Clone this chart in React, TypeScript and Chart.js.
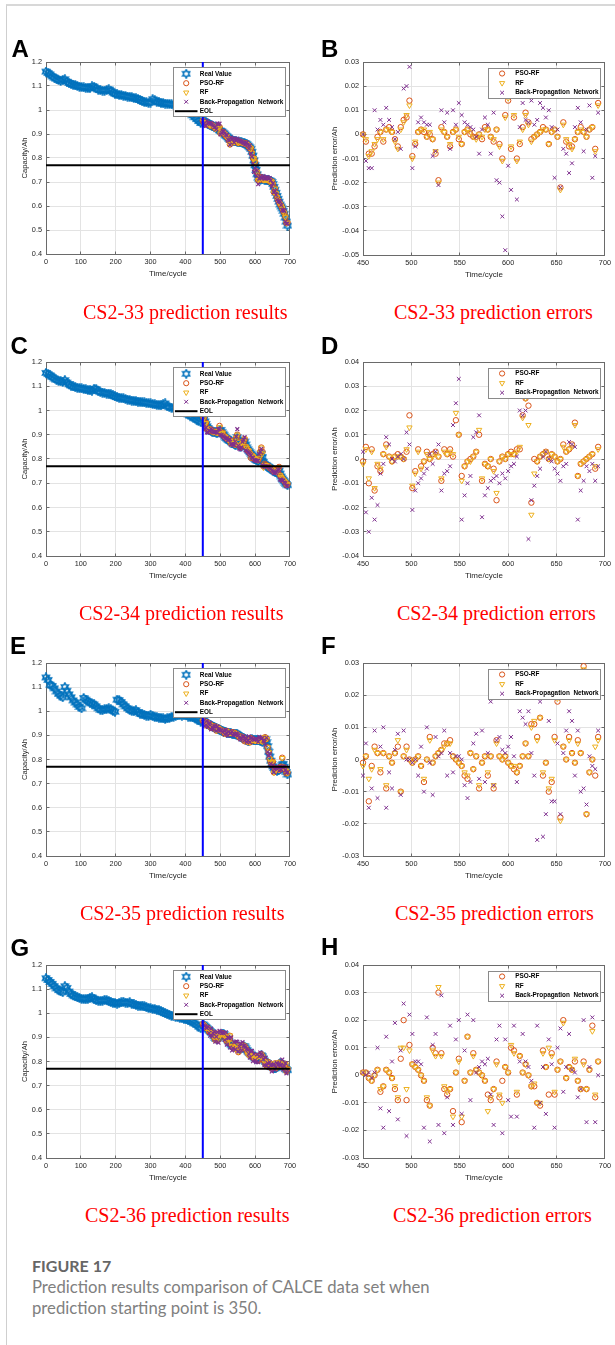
import React, { useEffect, useRef } from 'react';
import { Chart, registerables } from 'chart.js';

Chart.register(...registerables);

// ---------------- cycle layout ----------------
const HIST_START = 0; // history sampled every 6 cycles
const HIST_STEP = 6;
const PRED_START = 450; // prediction starting point (blue line), sampled every 3 cycles
const PRED_STEP = 3;
const EOL_LEVEL = 0.77;

// ---------------- tick labels ----------------
const capXTicks = [0, 100, 200, 300, 400, 500, 600, 700];
const capYTicks = [0.4, 0.5, 0.6, 0.7, 0.8, 0.9, 1, 1.1, 1.2];
const errXTicks = [450, 500, 550, 600, 650, 700];
const errYTicksB = [-0.05, -0.04, -0.03, -0.02, -0.01, 0, 0.01, 0.02, 0.03];
const errYTicksD = [-0.04, -0.03, -0.02, -0.01, 0, 0.01, 0.02, 0.03, 0.04];
const errYTicksF = [-0.03, -0.02, -0.01, 0, 0.01, 0.02, 0.03];
const errYTicksH = [-0.03, -0.02, -0.01, 0, 0.01, 0.02, 0.03, 0.04];

// ---------------- legend labels ----------------
const capLegendLabels = ['Real Value', 'PSO-RF', 'RF', 'Back-Propagation  Network', 'EOL'];
const errLegendLabels = ['PSO-RF', 'RF', 'Back-Propagation  Network'];

// ---------------- captions ----------------
const capCaptions = ['CS2-33 prediction results', 'CS2-34 prediction results', 'CS2-35 prediction results', 'CS2-36 prediction results'];
const errCaptions = ['CS2-33 prediction errors', 'CS2-34 prediction errors', 'CS2-35 prediction errors', 'CS2-36 prediction errors'];

// ---------------- data (capacity in mAh, errors in mAh) ----------------
// CS2-33
const capHistA = [1160,1154,1148,1140,1135,1130,1125,1121,1126,1128,
1118,1113,1109,1106,1103,1100,1097,1096,1094,1093,
1092,1091,1098,1097,1090,1085,1083,1081,1080,1083,
1086,1080,1073,1068,1065,1063,1062,1060,1058,1056,
1055,1053,1050,1048,1046,1042,1037,1034,1032,1030,
1031,1045,1040,1035,1033,1030,1028,1027,1026,1025,
1024,1022,1019,1017,1014,1011,1008,1004,995,986,
978,970,962,954,946];
const capWinA = [955,952,950,948,945,943,940,938,936,935,
932,930,928,926,925,920,915,912,910,906,
903,898,893,890,886,880,876,875,873,872,
871,870,869,868,867,866,866,865,864,863,
862,860,857,852,848,844,838,826,810,790,
770,750,732,718,712,710,711,712,711,710,
709,708,708,707,706,704,700,692,680,668,
655,642,630,618,606,598,590,580,568,552,
535,518];
const errPsoA = [0,-3,-8,-8,-5,-1,1,-3,2,3,
1,-2,-5,3,6,7,14,-9,-4,1,
2,1,-1,0,-2,-8,-19,3,1,-1,
-5,1,2,-2,-4,1,2,0,-1,-1,
0,-2,3,2,-1,-3,2,-4,-10,8,
14,-6,7,-10,-4,3,9,5,-2,-1,
0,1,3,2,-4,1,2,-1,-22,5,
-3,-5,-5,-2,1,3,1,-1,2,3,
-6,13];
const errRfA = [0,-2,-9,-7,-4,-2,1,-2,2,2,
1,-3,-6,2,5,8,12,-10,-3,1,
2,2,-1,1,-2,-7,-20,2,1,-1,
-4,1,2,-1,-4,1,2,1,-1,-2,
0,-1,2,2,-1,-2,2,-5,-11,7,
15,-5,8,-11,-3,2,8,4,-3,-1,
0,1,2,2,-4,1,2,-1,-23,4,
-2,-4,-6,-2,1,2,1,-1,2,3,
-7,12];
const errBpA = [0,-11,-14,-14,10,2,6,4,11,6,
3,-2,1,-6,19,20,28,-14,-5,5,
7,5,4,4,-9,-7,-21,10,5,9,
-6,10,4,13,8,5,4,3,2,-1,
-8,2,7,4,-8,9,-19,-20,-34,-48,
-13,-23,16,-27,3,13,6,5,14,4,
6,13,11,7,10,3,-18,2,-22,-6,
-8,-16,-12,3,11,5,-7,2,12,-18,
-9,9];

// CS2-34
const capHistC = [1155,1150,1145,1138,1132,1127,1123,1120,1118,1125,
1115,1108,1103,1099,1096,1094,1092,1091,1089,1087,
1085,1083,1082,1090,1088,1080,1076,1074,1072,1070,
1070,1066,1062,1058,1055,1053,1051,1050,1047,1045,
1043,1041,1040,1038,1037,1036,1034,1033,1032,1030,
1029,1027,1025,1024,1022,1021,1025,1029,1018,1014,
1012,1010,1008,1006,1002,996,992,988,984,978,
974,968,962,958,952];
const capWinC = [978,965,955,945,935,928,922,918,915,913,
912,911,910,909,908,912,918,920,912,905,
900,893,887,884,880,877,875,873,868,864,
860,858,870,890,880,858,850,855,862,868,
872,860,848,840,834,828,822,816,810,804,
800,796,794,792,800,812,822,808,788,780,
776,772,769,766,763,760,757,754,751,748,
745,742,748,752,740,728,720,714,708,702,
697,692];
const errPsoD = [-1,5,-10,4,-13,-3,-5,2,6,1,
-1,1,2,1,0,3,18,-12,-5,4,
-3,-1,3,0,2,3,1,-9,4,2,
4,1,16,10,-7,-3,-1,0,1,3,
10,-9,-2,-3,0,-4,-17,-1,1,0,
2,3,2,4,4,18,25,22,-18,0,
-1,1,2,3,0,2,1,-1,0,6,
3,4,6,15,-7,-2,-1,0,1,2,
-4,5];
const errRfD = [-2,4,-8,3,-12,-2,-4,2,5,1,
-1,1,1,1,0,4,13,-11,-6,3,
-4,-1,2,0,1,2,1,-8,3,2,
3,2,19,10,-9,-3,-1,-1,1,3,
12,-8,-2,-3,0,-5,-14,-1,1,0,
2,2,2,3,5,17,25,14,-23,-6,
-1,1,2,3,0,2,1,-1,0,5,
3,4,5,14,-7,-2,-1,0,1,2,
-3,4];
const errBpD = [3,-22,-30,-16,-25,-19,-6,-2,9,6,
0,-1,1,2,0,11,6,-21,-13,-10,
-8,-6,-4,2,-2,3,6,-13,-6,-5,
-3,14,23,33,-25,-15,-10,-7,9,11,
18,-24,-15,-12,-9,-8,-7,-10,-6,-8,
-5,-3,-2,1,20,18,20,-33,-17,-11,
-7,-4,1,3,0,-1,-4,-6,-9,-3,
-2,7,6,5,-25,-13,-9,-3,-5,-2,
-9,-3];

// CS2-35
const capHistE = [1140,1130,1110,1105,1095,1082,1072,1065,1058,1100,
1085,1070,1058,1045,1036,1028,1018,1012,1055,1048,
1042,1036,1032,1028,1020,1012,1006,1004,1008,1010,
1012,1008,1002,998,1048,1046,1038,1028,1020,1012,
1006,1002,1000,1004,996,990,988,986,982,980,
986,980,976,975,974,972,970,968,970,972,
976,978,980,983,984,982,984,983,978,976,
975,972,968,962,956];
const capWinE = [962,958,955,952,950,947,944,942,940,938,
936,934,932,930,928,926,924,922,920,918,
916,914,912,911,910,909,908,908,907,906,
905,906,907,904,900,897,895,893,891,888,
885,882,880,878,878,880,882,883,882,880,
879,880,882,881,879,877,875,874,876,880,
884,872,855,832,812,795,782,772,765,760,
756,754,755,758,762,768,778,782,770,758,
748,738];
const errPsoF = [-1,1,-13,-2,4,2,-4,2,-9,1,
-1,2,4,-10,1,4,0,-1,0,1,
-2,-7,0,7,-1,1,2,3,5,5,
6,1,0,-1,-2,-5,-6,2,-3,1,
-9,-1,1,-5,1,-9,6,1,0,1,
-1,-2,-3,-4,-2,1,5,1,11,11,
7,13,-5,-1,-10,-7,7,18,-18,4,
0,7,2,-1,6,2,29,-17,-4,0,
-5,7];
const errRfF = [-2,1,-6,-3,3,2,-3,2,-8,1,
-1,2,6,-10,1,3,0,-1,0,1,
-2,-6,0,6,-1,1,2,3,4,5,
5,1,0,-1,-2,-4,-5,2,-3,1,
-8,-1,1,-4,1,-8,5,1,0,1,
-1,-2,-2,-4,-2,1,5,1,10,12,
6,13,-4,-1,-9,-6,6,19,-19,4,
0,6,2,-1,5,2,28,-17,-4,0,
4,6];
const errBpF = [-5,5,-15,-9,9,-12,4,10,-15,-4,
-9,3,8,-11,9,0,0,-1,0,-5,
4,-10,10,-1,-11,7,1,2,9,-5,
2,-4,1,1,0,-8,-12,-7,5,8,
-6,9,-7,2,18,-8,6,7,3,2,
4,7,1,-7,15,13,11,15,2,-5,
-25,18,-24,-17,12,-13,-13,5,-17,2,
9,15,12,-5,9,-10,-9,-14,1,-2,
-3,9];

// CS2-36
const capHistG = [1145,1138,1130,1122,1112,1103,1096,1091,1087,1112,
1105,1090,1080,1074,1070,1066,1063,1060,1059,1058,
1060,1064,1066,1060,1054,1052,1050,1052,1056,1054,
1050,1046,1044,1042,1040,1042,1045,1048,1044,1042,
1046,1040,1037,1035,1032,1030,1032,1028,1025,1022,
1020,1018,1017,1015,1012,1008,1004,1000,997,994,
990,988,986,984,982,980,977,975,972,968,
964,958,952,945,938];
const capWinG = [954,950,946,942,938,934,930,926,922,918,
912,905,898,894,895,900,905,908,912,915,
914,908,900,894,888,882,876,871,867,863,
862,868,870,862,856,853,852,855,860,864,
862,855,848,842,838,834,830,826,822,818,
814,812,811,812,816,822,826,822,812,804,
798,794,790,787,784,781,778,775,772,772,
774,778,784,790,792,791,788,784,778,772,
768,764];
const errPsoH = [1,1,-1,-2,0,2,-6,-4,2,1,
-1,-5,-9,6,20,-9,11,4,3,2,
0,-2,-9,-11,10,8,30,8,-5,-7,
-5,-13,1,6,-17,-2,14,1,8,2,
1,0,-2,-7,-9,-5,5,-8,-2,3,
1,10,9,-7,7,1,4,0,-4,-4,
-10,-11,9,3,-7,8,-7,2,5,20,
-1,3,2,5,-2,-5,5,-5,2,18,
-8,5];
const errRfH = [1,1,-1,-2,0,2,-5,-4,2,1,
-1,-4,-8,10,10,-5,9,4,3,2,
0,-2,-8,-11,9,7,32,7,-4,-6,
-5,-15,1,5,-15,-2,14,1,7,2,
1,0,-2,-13,-8,-5,4,-7,-10,3,
1,11,8,-6,7,1,4,0,-4,-3,
-10,-10,8,3,10,7,-6,2,5,19,
-1,3,2,6,-2,-5,4,-5,2,16,
-7,5];
const errBpH = [1,0,1,-1,1,10,-12,-19,14,-13,
5,19,-16,9,26,-22,22,15,5,5,
4,-19,21,-24,11,15,-18,29,-21,-8,
18,-18,13,20,-14,9,22,-9,20,1,
3,5,4,6,-7,-18,13,18,-21,13,
-9,-15,18,-15,5,15,5,3,-2,-19,
18,-10,3,-14,13,4,-19,10,17,-6,
3,15,2,1,-8,-5,20,-17,3,21,
-17,0];

// ---------------- styling ----------------
const SANS = '"Liberation Sans", Arial, Helvetica, sans-serif';
const C_REAL = '#0072BD';
const C_PSO = '#D95319';
const C_RF = '#EDB120';
const C_BP = '#7E2F8E';
const GRID = '#e3e3e3';
const AXIS = '#6a6a6a';
const TXT = '#262626';
const X_AXIS_H = 26;
const TOP_PAD = 10;

const fmt = (v: any) => String(Number(Number(v).toFixed(3)));

function makeHex(): HTMLCanvasElement {
  const c = document.createElement('canvas');
  c.width = 10;
  c.height = 10;
  const g = c.getContext('2d')!;
  g.strokeStyle = C_REAL;
  g.lineWidth = 1.5;
  g.beginPath();
  for (let k = 0; k < 12; k++) {
    const r = k % 2 === 0 ? 4.1 : 2.4;
    const a = -Math.PI / 2 + (k * Math.PI) / 6;
    const px = 5 + r * Math.cos(a);
    const py = 5 + r * Math.sin(a);
    if (k === 0) g.moveTo(px, py);
    else g.lineTo(px, py);
  }
  g.closePath();
  g.stroke();
  return c;
}

function drawMarker(ctx: CanvasRenderingContext2D, kind: string, x: number, y: number, hex: HTMLCanvasElement) {
  ctx.save();
  ctx.lineWidth = 1;
  if (kind === 'hex') {
    ctx.drawImage(hex, x - hex.width / 2, y - hex.height / 2);
  } else if (kind === 'circle') {
    ctx.strokeStyle = C_PSO;
    ctx.beginPath();
    ctx.arc(x, y, 2.6, 0, Math.PI * 2);
    ctx.stroke();
  } else if (kind === 'tri') {
    const r = 3;
    ctx.strokeStyle = C_RF;
    ctx.beginPath();
    ctx.moveTo(x - r * 0.866, y - r * 0.5);
    ctx.lineTo(x + r * 0.866, y - r * 0.5);
    ctx.lineTo(x, y + r);
    ctx.closePath();
    ctx.stroke();
  } else if (kind === 'x') {
    const d = 1.9;
    ctx.strokeStyle = C_BP;
    ctx.beginPath();
    ctx.moveTo(x - d, y - d);
    ctx.lineTo(x + d, y + d);
    ctx.moveTo(x + d, y - d);
    ctx.lineTo(x - d, y + d);
    ctx.stroke();
  } else if (kind === 'line') {
    ctx.strokeStyle = '#000';
    ctx.lineWidth = 2;
    ctx.beginPath();
    ctx.moveTo(x - 11.3, y);
    ctx.lineTo(x + 11.3, y);
    ctx.stroke();
  }
  ctx.restore();
}

const capLegendSpec = {
  w: 112, h: 49, dx: 5, dy: 5,
  rows: [6.3, 15.7, 25, 34.3, 43.7],
  markerX: 12.7, textX: 26.3,
  kinds: ['hex', 'circle', 'tri', 'x', 'line'],
  labels: capLegendLabels,
};
const errLegendSpec = {
  w: 112, h: 30, dx: 5, dy: 5.5,
  rows: [5, 14.6, 24.2],
  markerX: 13.6, textX: 26.7,
  kinds: ['circle', 'tri', 'x'],
  labels: errLegendLabels,
};

function decorPlugin(spec: any, hex: HTMLCanvasElement) {
  const al = (p: number) => Math.round(p - 0.5) + 0.5;
  return {
    id: 'matlabDecor',
    beforeDatasetsDraw(chart: any) {
      const { ctx, chartArea: a } = chart;
      const xs = chart.scales.x;
      const ys = chart.scales.y;
      const L = al(a.left), R = al(a.right), T = al(a.top), B = al(a.bottom);
      ctx.save();
      ctx.strokeStyle = AXIS;
      ctx.lineWidth = 1;
      ctx.beginPath();
      xs.ticks.forEach((t: any) => {
        const p = al(xs.getPixelForValue(t.value));
        ctx.moveTo(p, B); ctx.lineTo(p, B - 3);
        ctx.moveTo(p, T); ctx.lineTo(p, T + 3);
      });
      ys.ticks.forEach((t: any) => {
        const p = al(ys.getPixelForValue(t.value));
        ctx.moveTo(L, p); ctx.lineTo(L + 3, p);
        ctx.moveTo(R, p); ctx.lineTo(R - 3, p);
      });
      ctx.stroke();
      ctx.strokeRect(L, T, R - L, B - T);
      ctx.restore();
    },
    afterDatasetsDraw(chart: any) {
      const { ctx, chartArea: a } = chart;
      const bx = Math.round(a.right - spec.dx - spec.w) + 0.5;
      const by = Math.round(a.top + spec.dy) + 0.5;
      ctx.save();
      ctx.fillStyle = '#ffffff';
      ctx.fillRect(bx, by, spec.w, spec.h);
      ctx.strokeStyle = '#8a8a8a';
      ctx.lineWidth = 1;
      ctx.strokeRect(bx, by, spec.w, spec.h);
      spec.labels.forEach((lab: string, k: number) => {
        const cy = by + spec.rows[k];
        drawMarker(ctx, spec.kinds[k], bx + spec.markerX, cy, hex);
        ctx.fillStyle = '#000';
        ctx.font = `bold 6.4px ${SANS}`;
        ctx.textAlign = 'left';
        ctx.textBaseline = 'middle';
        ctx.fillText(lab, bx + spec.textX, cy);
      });
      ctx.restore();
    },
  };
}

function makeScales(geo: any, xt: number[], yt: number[], yTitle: string) {
  const tickFont = { family: SANS, size: 7.3 };
  return {
    x: {
      type: 'linear',
      min: xt[0],
      max: xt[xt.length - 1],
      afterBuildTicks: (ax: any) => { ax.ticks = xt.map((v) => ({ value: v })); },
      afterFit: (ax: any) => { ax.height = X_AXIS_H; },
      grid: { color: GRID, lineWidth: 1, drawTicks: false },
      border: { display: false },
      ticks: { font: tickFont, color: TXT, padding: 4, maxRotation: 0, minRotation: 0, autoSkip: false, callback: fmt },
      title: { display: true, text: 'Time/cycle', font: { family: SANS, size: 8 }, color: TXT, padding: { top: 0, bottom: 1.5 } },
    },
    y: {
      type: 'linear',
      min: yt[0],
      max: yt[yt.length - 1],
      afterBuildTicks: (ax: any) => { ax.ticks = yt.map((v) => ({ value: v })); },
      afterFit: (ax: any) => { ax.width = geo.yAxisW; },
      grid: { color: GRID, lineWidth: 1, drawTicks: false },
      border: { display: false },
      ticks: { font: tickFont, color: TXT, padding: 4, autoSkip: false, callback: fmt },
      title: { display: true, text: yTitle, font: { family: SANS, size: 7.6 }, color: TXT, padding: { top: geo.yTitlePad, bottom: 0 } },
    },
  };
}

const baseOptions = (geo: any) => ({
  responsive: false,
  maintainAspectRatio: false,
  animation: false,
  devicePixelRatio: 1,
  events: [],
  layout: { padding: { top: TOP_PAD, right: geo.padR, left: 0, bottom: 0 } },
  plugins: { legend: { display: false }, tooltip: { enabled: false } },
});

function capConfig(geo: any, p: any, hex: HTMLCanvasElement) {
  const histPts = p.hist.map((v: number, i: number) => ({ x: HIST_START + i * HIST_STEP, y: v / 1000 }));
  const winPts = p.win.map((v: number, i: number) => ({ x: PRED_START + i * PRED_STEP, y: v / 1000 }));
  const pred = (err: number[]) => p.win.map((v: number, i: number) => ({ x: PRED_START + i * PRED_STEP, y: (v + err[i]) / 1000 }));
  return {
    type: 'scatter',
    data: {
      datasets: [
        { label: capLegendLabels[0], data: [...histPts, ...winPts], pointStyle: hex, pointRadius: 4, borderColor: C_REAL, showLine: false, order: 5, clip: false },
        { label: capLegendLabels[1], data: pred(p.pso), pointStyle: 'circle', pointRadius: 2.8, borderColor: C_PSO, backgroundColor: 'rgba(0,0,0,0)', borderWidth: 1, showLine: false, order: 4, clip: false },
        { label: capLegendLabels[2], data: pred(p.rf), pointStyle: 'triangle', rotation: 180, pointRadius: 3.1, borderColor: C_RF, backgroundColor: 'rgba(0,0,0,0)', borderWidth: 1, showLine: false, order: 3, clip: false },
        { label: capLegendLabels[3], data: pred(p.bp), pointStyle: 'crossRot', pointRadius: 2.7, borderColor: C_BP, backgroundColor: C_BP, borderWidth: 1.2, showLine: false, order: 2, clip: false },
        { label: capLegendLabels[4], data: [{ x: capXTicks[0], y: EOL_LEVEL }, { x: capXTicks[capXTicks.length - 1], y: EOL_LEVEL }], showLine: true, borderColor: '#000', borderWidth: 2, pointRadius: 0, order: 1 },
        { label: 'start', data: [{ x: PRED_START, y: capYTicks[0] }, { x: PRED_START, y: capYTicks[capYTicks.length - 1] }], showLine: true, borderColor: '#0000ff', borderWidth: 2, pointRadius: 0, order: 0 },
      ],
    },
    options: { ...baseOptions(geo), scales: makeScales(geo, capXTicks, capYTicks, 'Capacity/Ah') },
    plugins: [decorPlugin(capLegendSpec, hex)],
  };
}

function errConfig(geo: any, p: any, hex: HTMLCanvasElement) {
  const pts = (err: number[]) => err.map((e: number, i: number) => ({ x: PRED_START + i * PRED_STEP, y: e / 1000 }));
  return {
    type: 'scatter',
    data: {
      datasets: [
        { label: errLegendLabels[0], data: pts(p.pso), pointStyle: 'circle', pointRadius: 2.7, borderColor: C_PSO, backgroundColor: 'rgba(0,0,0,0)', borderWidth: 1, order: 3, clip: false },
        { label: errLegendLabels[1], data: pts(p.rf), pointStyle: 'triangle', rotation: 180, pointRadius: 3.1, borderColor: C_RF, backgroundColor: 'rgba(0,0,0,0)', borderWidth: 1, order: 2, clip: false },
        { label: errLegendLabels[2], data: pts(p.bp), pointStyle: 'crossRot', pointRadius: 2.7, borderColor: C_BP, backgroundColor: C_BP, borderWidth: 1, order: 1, clip: false },
      ],
    },
    options: { ...baseOptions(geo), scales: makeScales(geo, errXTicks, p.yTicks, 'Prediction error/Ah') },
    plugins: [decorPlugin(errLegendSpec, hex)],
  };
}

const LEFT_GEO = { left: 8, w: 292, yAxisW: 38, padR: 8, yTitlePad: 12.4 };
const RIGHT_GEO = { left: 300, w: 315, yAxisW: 63, padR: 7, yTitlePad: 30.7 };

const panels = [
  { kind: 'cap', geo: LEFT_GEO, plotTop: 62, plotH: 192, d: { hist: capHistA, win: capWinA, pso: errPsoA, rf: errRfA, bp: errBpA } },
  { kind: 'err', geo: RIGHT_GEO, plotTop: 62, plotH: 193, d: { pso: errPsoA, rf: errRfA, bp: errBpA, yTicks: errYTicksB } },
  { kind: 'cap', geo: LEFT_GEO, plotTop: 362, plotH: 194, d: { hist: capHistC, win: capWinC, pso: errPsoD, rf: errRfD, bp: errBpD } },
  { kind: 'err', geo: RIGHT_GEO, plotTop: 362, plotH: 194, d: { pso: errPsoD, rf: errRfD, bp: errBpD, yTicks: errYTicksD } },
  { kind: 'cap', geo: LEFT_GEO, plotTop: 663, plotH: 193, d: { hist: capHistE, win: capWinE, pso: errPsoF, rf: errRfF, bp: errBpF } },
  { kind: 'err', geo: RIGHT_GEO, plotTop: 663, plotH: 193, d: { pso: errPsoF, rf: errRfF, bp: errBpF, yTicks: errYTicksF } },
  { kind: 'cap', geo: LEFT_GEO, plotTop: 965, plotH: 193, d: { hist: capHistG, win: capWinG, pso: errPsoH, rf: errRfH, bp: errBpH } },
  { kind: 'err', geo: RIGHT_GEO, plotTop: 965, plotH: 193, d: { pso: errPsoH, rf: errRfH, bp: errBpH, yTicks: errYTicksH } },
];

function Panel({ panel }: { panel: any }) {
  const ref = useRef<HTMLCanvasElement>(null);
  const geo = panel.geo;
  const top = panel.plotTop - TOP_PAD;
  const h = TOP_PAD + panel.plotH + X_AXIS_H;
  useEffect(() => {
    const hex = makeHex();
    const cfg: any = panel.kind === 'cap' ? capConfig(geo, panel.d, hex) : errConfig(geo, panel.d, hex);
    const chart = new Chart(ref.current as HTMLCanvasElement, cfg);
    return () => chart.destroy();
  }, []);
  return (
    <canvas
      ref={ref}
      width={geo.w}
      height={h}
      style={{ position: 'absolute', left: geo.left, top, width: geo.w, height: h }}
    />
  );
}

const letters = [
  { t: 'A', x: 11.5, cap: 40 }, { t: 'B', x: 321, cap: 40 },
  { t: 'C', x: 10.5, cap: 337 }, { t: 'D', x: 321, cap: 337 },
  { t: 'E', x: 10, cap: 637 }, { t: 'F', x: 321, cap: 637 },
  { t: 'G', x: 10.5, cap: 939 }, { t: 'H', x: 321, cap: 938 },
];
const captionRows = [
  { base: 319, lx: 83, rx: 394 },
  { base: 620, lx: 79, rx: 397 },
  { base: 920, lx: 80, rx: 395 },
  { base: 1222, lx: 85, rx: 393 },
];

export default function App() {
  return (
    <div style={{ position: 'absolute', left: 0, top: 0, width: 615, height: 1345, background: '#fff', overflow: 'hidden' }}>
      <div style={{ position: 'absolute', left: 6, top: 4, width: 609, height: 1341, borderTop: '2px solid #d8d8d8', borderLeft: '1px solid #cfcfcf', boxSizing: 'border-box' }} />
      {panels.map((p, i) => <Panel key={i} panel={p} />)}
      {letters.map((l) => (
        <div key={l.t} style={{ position: 'absolute', left: l.x, top: l.cap - 3.1, fontFamily: SANS, fontWeight: 'bold', fontSize: 24, lineHeight: '24px', color: '#000' }}>{l.t}</div>
      ))}
      {captionRows.map((r, i) => (
        <React.Fragment key={i}>
          <div style={{ position: 'absolute', left: r.lx, top: r.base - 16.75, fontFamily: '"Liberation Serif", "Times New Roman", serif', fontSize: 20, lineHeight: '20px', color: '#ff0000', whiteSpace: 'nowrap' }}>{capCaptions[i]}</div>
          <div style={{ position: 'absolute', left: r.rx, top: r.base - 16.75, fontFamily: '"Liberation Serif", "Times New Roman", serif', fontSize: 20, lineHeight: '20px', color: '#ff0000', whiteSpace: 'nowrap' }}>{errCaptions[i]}</div>
        </React.Fragment>
      ))}
      <div style={{ position: 'absolute', left: 32, top: 1256.5, fontFamily: 'Lato, "Open Sans", sans-serif', fontWeight: 'bold', fontSize: 16, lineHeight: '17px', color: '#666', whiteSpace: 'nowrap' }}>FIGURE 17</div>
      <div style={{ position: 'absolute', left: 32, top: 1276.5, fontFamily: 'Lato, "Open Sans", sans-serif', fontSize: 16.7, lineHeight: '21px', color: '#808080', whiteSpace: 'nowrap' }}>
        Prediction results comparison of CALCE data set when<br />prediction starting point is 350.
      </div>
    </div>
  );
}
